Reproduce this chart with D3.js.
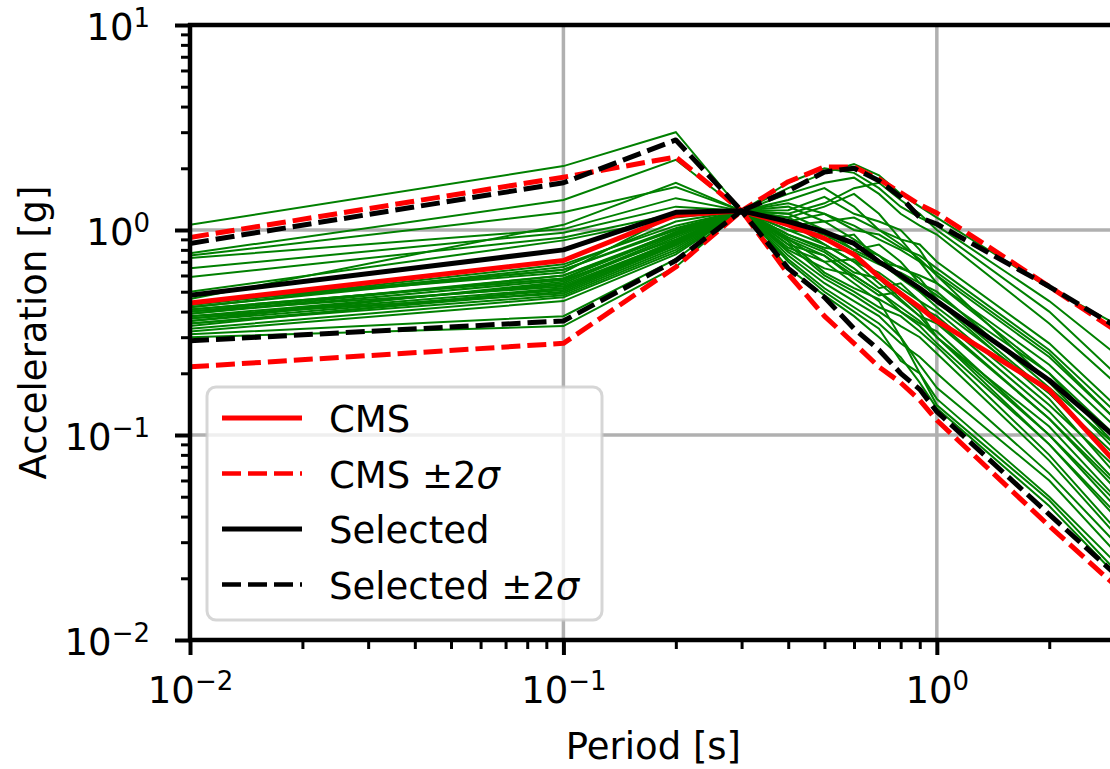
<!DOCTYPE html>
<html lang="en">
<head>
<meta charset="utf-8">
<script src="https://cdn.jsdelivr.net/npm/d3@7"></script>
<style>
  body { margin: 0; background: #fff; }
  text { font-family: "DejaVu Sans", sans-serif; fill: #000; }
</style>
</head>
<body>
<svg id="chart" width="1110" height="769"></svg>
<script>
// spectral periods [s]
var periods = [0.01, 0.1, 0.2, 0.3, 0.4, 0.5, 0.6, 0.7, 0.8, 0.9, 1.0, 2.0, 3.0];

// conditional mean spectrum and +/- 2 sigma
var cmsMean = [0.44, 0.71, 1.18, 1.24, 1.06, 0.91, 0.76, 0.59, 0.49, 0.42, 0.36, 0.166, 0.074];
var cmsHigh = [0.92, 1.81, 2.27, 1.24, 1.72, 2.03, 2.03, 1.77, 1.52, 1.33, 1.21, 0.53, 0.325];
var cmsLow  = [0.215, 0.28, 0.66, 1.24, 0.61, 0.38, 0.28, 0.215, 0.18, 0.148, 0.118, 0.036, 0.0185];

// selected records mean and +/- 2 sigma
var selMean = [0.48, 0.80, 1.22, 1.24, 1.10, 0.98, 0.86, 0.70, 0.60, 0.52, 0.45, 0.185, 0.098];
var selHigh = [0.86, 1.70, 2.75, 1.24, 1.55, 1.92, 2.0, 1.74, 1.45, 1.15, 1.07, 0.53, 0.34];
var selLow  = [0.288, 0.36, 0.71, 1.24, 0.65, 0.47, 0.33, 0.26, 0.20, 0.167, 0.13, 0.041, 0.021];

// individual selected ground motion spectra
var records = [
  [1.06, 2.05, 3.0, 1.24, 0.85, 0.75, 0.6, 0.5, 0.42, 0.36, 0.3, 0.1, 0.045],
  [0.77, 1.40, 2.2, 1.24, 1.5, 1.7, 1.8, 1.5, 1.2, 1.05, 0.95, 0.35, 0.18],
  [0.75, 1.22, 1.62, 1.24, 1.3, 1.1, 0.9, 0.75, 0.6, 0.5, 0.42, 0.16, 0.08],
  [0.73, 1.01, 1.43, 1.24, 1.0, 0.85, 0.7, 0.55, 0.45, 0.38, 0.3, 0.09, 0.04],
  [0.65, 0.97, 1.3, 1.24, 1.6, 1.9, 2.1, 1.85, 1.5, 1.3, 1.15, 0.52, 0.35],
  [0.59, 0.92, 1.2, 1.24, 1.1, 1.2, 1.05, 0.9, 0.8, 0.7, 0.62, 0.25, 0.12],
  [0.50, 0.89, 1.15, 1.24, 0.9, 0.7, 0.55, 0.45, 0.3, 0.22, 0.17, 0.06, 0.027],
  [0.46, 1.06, 1.7, 1.24, 1.4, 1.6, 1.3, 1.0, 0.9, 0.85, 0.7, 0.28, 0.14],
  [0.43, 0.68, 1.05, 1.24, 1.2, 1.0, 0.8, 0.85, 0.7, 0.55, 0.48, 0.2, 0.09],
  [0.42, 0.64, 1.0, 1.24, 0.95, 0.8, 0.65, 0.52, 0.55, 0.45, 0.36, 0.12, 0.055],
  [0.40, 0.60, 0.95, 1.24, 1.05, 0.9, 0.95, 0.7, 0.58, 0.5, 0.45, 0.15, 0.065],
  [0.39, 0.57, 0.9, 1.24, 0.85, 0.6, 0.5, 0.42, 0.38, 0.32, 0.27, 0.08, 0.035],
  [0.38, 0.54, 0.88, 1.24, 1.15, 1.3, 1.5, 1.2, 0.9, 0.7, 0.55, 0.2, 0.1],
  [0.36, 0.51, 0.85, 1.24, 0.8, 0.65, 0.6, 0.5, 0.4, 0.35, 0.32, 0.1, 0.048],
  [0.35, 0.48, 0.8, 1.24, 0.75, 0.55, 0.45, 0.38, 0.3, 0.2, 0.15, 0.05, 0.024],
  [0.31, 0.38, 0.72, 1.24, 0.7, 0.5, 0.4, 0.33, 0.23, 0.2, 0.14, 0.048, 0.022],
  [0.30, 0.34, 0.66, 1.24, 0.65, 0.48, 0.38, 0.3, 0.24, 0.18, 0.135, 0.045, 0.021],
  [0.44, 0.62, 1.2, 1.24, 1.7, 2.0, 1.9, 1.6, 1.3, 1.15, 1.05, 0.45, 0.25],
  [0.41, 0.58, 0.98, 1.24, 1.0, 0.95, 0.85, 0.75, 0.65, 0.6, 0.55, 0.22, 0.11],
  [0.37, 0.55, 0.92, 1.24, 0.9, 0.75, 0.58, 0.48, 0.5, 0.42, 0.38, 0.13, 0.06],
  [0.34, 0.52, 0.86, 1.24, 1.25, 1.45, 1.2, 1.1, 1.0, 0.8, 0.6, 0.18, 0.085],
  [0.38, 0.49, 0.82, 1.24, 0.82, 0.7, 0.72, 0.6, 0.48, 0.4, 0.3, 0.11, 0.05],
  [0.42, 0.66, 1.1, 1.24, 1.1, 0.85, 0.7, 0.62, 0.52, 0.45, 0.4, 0.14, 0.07],
  [0.36, 0.56, 0.94, 1.24, 0.95, 0.82, 0.78, 0.68, 0.62, 0.55, 0.5, 0.17, 0.09],
  [0.40, 0.53, 0.87, 1.24, 0.88, 0.62, 0.52, 0.46, 0.4, 0.34, 0.28, 0.09, 0.042],
  [0.33, 0.47, 0.78, 1.24, 1.35, 1.2, 1.0, 0.95, 0.82, 0.75, 0.65, 0.26, 0.13],
  [0.39, 0.60, 0.97, 1.24, 1.2, 1.35, 1.6, 1.7, 1.4, 1.2, 1.0, 0.4, 0.2],
  [0.35, 0.50, 0.84, 1.24, 0.78, 0.58, 0.48, 0.4, 0.34, 0.3, 0.25, 0.075, 0.033],
  [0.44, 0.64, 1.02, 1.24, 1.05, 1.1, 1.15, 1.0, 0.85, 0.72, 0.6, 0.24, 0.12],
  [0.37, 0.52, 0.89, 1.24, 0.92, 0.78, 0.62, 0.58, 0.46, 0.38, 0.35, 0.12, 0.058],
  [0.32, 0.45, 0.76, 1.24, 0.72, 0.52, 0.42, 0.35, 0.28, 0.24, 0.2, 0.065, 0.03],
  [0.41, 0.58, 0.96, 1.24, 1.15, 0.95, 0.8, 0.7, 0.66, 0.58, 0.46, 0.16, 0.075]
];

// axis ticks
var xMajor = [0.01, 0.1, 1];
var xMajorExp = ["\u22122", "\u22121", "0"];
var yMajor = [10, 1, 0.1, 0.01];
var yMajorExp = ["1", "0", "\u22121", "\u22122"];

var legendItems = [
  { label: "CMS", sigma: false, color: "#ff0000", dashed: false },
  { label: "CMS \u00b12", sigma: true, color: "#ff0000", dashed: true },
  { label: "Selected", sigma: false, color: "#000000", dashed: false },
  { label: "Selected \u00b12", sigma: true, color: "#000000", dashed: true }
];

var plotLeft = 190, plotRight = 1115, plotTop = 25, plotBottom = 640;
var svg = d3.select("#chart");
svg.append("rect").attr("width", 1110).attr("height", 769).attr("fill", "#fff");

var x = d3.scaleLog().domain([0.01, 3]).range([plotLeft, plotRight]);
var y = d3.scaleLog().domain([0.01, 10]).range([plotBottom, plotTop]);

function minorTicks(lo, hi) {
  var out = [];
  for (var e = lo; e < hi; e++) {
    for (var m = 2; m <= 9; m++) out.push(m * Math.pow(10, e));
  }
  return out;
}
var xMinor = minorTicks(-2, 1).filter(function(v) { return v <= 3; });
var yMinor = minorTicks(-2, 1);

svg.append("defs").append("clipPath").attr("id", "plotclip")
  .append("rect").attr("x", plotLeft).attr("y", plotTop)
  .attr("width", plotRight - plotLeft).attr("height", plotBottom - plotTop);

/* grid */
var grid = svg.append("g").attr("class", "grid");
grid.selectAll("line.gx").data(xMajor).enter().append("line")
  .attr("x1", function(d) { return x(d); }).attr("x2", function(d) { return x(d); })
  .attr("y1", plotTop).attr("y2", plotBottom)
  .attr("stroke", "#b0b0b0").attr("stroke-width", 3.5);
grid.selectAll("line.gy").data(yMajor).enter().append("line")
  .attr("y1", function(d) { return y(d); }).attr("y2", function(d) { return y(d); })
  .attr("x1", plotLeft).attr("x2", plotRight)
  .attr("stroke", "#b0b0b0").attr("stroke-width", 3.5);

/* lines */
var line = d3.line()
  .x(function(d, i) { return x(periods[i]); })
  .y(function(d) { return y(d); });

var plot = svg.append("g").attr("clip-path", "url(#plotclip)");

plot.selectAll("path.record").data(records).enter().append("path")
  .attr("class", "record")
  .attr("d", line)
  .attr("fill", "none")
  .attr("stroke", "#008000")
  .attr("stroke-width", 2);

var dashes = "19,7";
function drawSeries(values, color, dashed) {
  plot.append("path")
    .datum(values)
    .attr("d", line)
    .attr("fill", "none")
    .attr("stroke", color)
    .attr("stroke-width", 5)
    .attr("stroke-dasharray", dashed ? dashes : null)
    .attr("stroke-linejoin", "round");
}
drawSeries(cmsMean, "#ff0000", false);
drawSeries(cmsHigh, "#ff0000", true);
drawSeries(cmsLow, "#ff0000", true);
drawSeries(selMean, "#000000", false);
drawSeries(selHigh, "#000000", true);
drawSeries(selLow, "#000000", true);

/* axes */
function styleAxis(g, w) {
  g.select(".domain").remove();
  g.selectAll(".tick line").attr("stroke", "#000").attr("stroke-width", w);
  g.selectAll(".tick text").remove();
}

var gx = svg.append("g").attr("transform", "translate(0," + plotBottom + ")");
gx.append("g").call(d3.axisBottom(x).tickValues(xMinor).tickSize(9).tickFormat(""))
  .call(styleAxis, 3);
var gxMaj = gx.append("g").call(d3.axisBottom(x).tickValues(xMajor).tickSize(15).tickFormat(""))
  .call(styleAxis, 4);

var gy = svg.append("g").attr("transform", "translate(" + plotLeft + ",0)");
gy.append("g").call(d3.axisLeft(y).tickValues(yMinor).tickSize(9).tickFormat(""))
  .call(styleAxis, 3);
var gyMaj = gy.append("g").call(d3.axisLeft(y).tickValues(yMajor).tickSize(15).tickFormat(""))
  .call(styleAxis, 4);

function powerLabel(sel, exps) {
  sel.each(function(d, i) {
    var t = d3.select(this);
    t.append("tspan").text("10");
    t.append("tspan").attr("font-size", 26).attr("dy", -13).text(exps[i]);
  });
}

gxMaj.selectAll(".tick").append("text")
  .attr("y", 63)
  .attr("text-anchor", "middle")
  .attr("font-size", 37)
  .call(powerLabel, xMajorExp);

gyMaj.selectAll(".tick").append("text")
  .attr("x", -40)
  .attr("y", 14)
  .attr("text-anchor", "end")
  .attr("font-size", 37)
  .call(powerLabel, yMajorExp);

/* spines */
var spines = svg.append("g").attr("stroke", "#000").attr("stroke-width", 4.5);
spines.append("line").attr("x1", plotLeft).attr("x2", plotLeft).attr("y1", plotTop - 2).attr("y2", plotBottom + 2);
spines.append("line").attr("x1", plotLeft - 2).attr("x2", plotRight).attr("y1", plotBottom).attr("y2", plotBottom);
spines.append("line").attr("x1", plotLeft - 2).attr("x2", plotRight).attr("y1", plotTop).attr("y2", plotTop);

/* axis titles */
svg.append("text")
  .attr("x", (x(0.01) + x(1)) / 2 + 90)
  .attr("y", 759)
  .attr("text-anchor", "middle")
  .attr("font-size", 37)
  .text("Period [s]");

svg.append("text")
  .attr("transform", "translate(46," + ((plotTop + plotBottom) / 2) + ") rotate(-90)")
  .attr("text-anchor", "middle")
  .attr("font-size", 37)
  .text("Acceleration [g]");

/* legend */
var legend = svg.append("g").attr("transform", "translate(207,387)");
legend.append("rect")
  .attr("width", 395).attr("height", 233).attr("rx", 9)
  .attr("fill", "#fff").attr("fill-opacity", 0.8)
  .attr("stroke", "#cccccc").attr("stroke-opacity", 0.8).attr("stroke-width", 3);

var items = legend.selectAll("g.item").data(legendItems).enter().append("g")
  .attr("class", "item")
  .attr("transform", function(d, i) { return "translate(0," + (31 + i * 55.5) + ")"; });

items.append("line")
  .attr("x1", 15).attr("x2", 95)
  .attr("stroke", function(d) { return d.color; })
  .attr("stroke-width", function(d) { return d.dashed ? 4.5 : 5; })
  .attr("stroke-dasharray", function(d) { return d.dashed ? dashes : null; });

items.append("text")
  .attr("x", 122).attr("y", 14)
  .attr("font-size", 37)
  .each(function(d) {
    var t = d3.select(this);
    t.append("tspan").text(d.label);
    if (d.sigma) t.append("tspan").attr("font-style", "italic").text("\u03c3");
  });
</script>
</body>
</html>
